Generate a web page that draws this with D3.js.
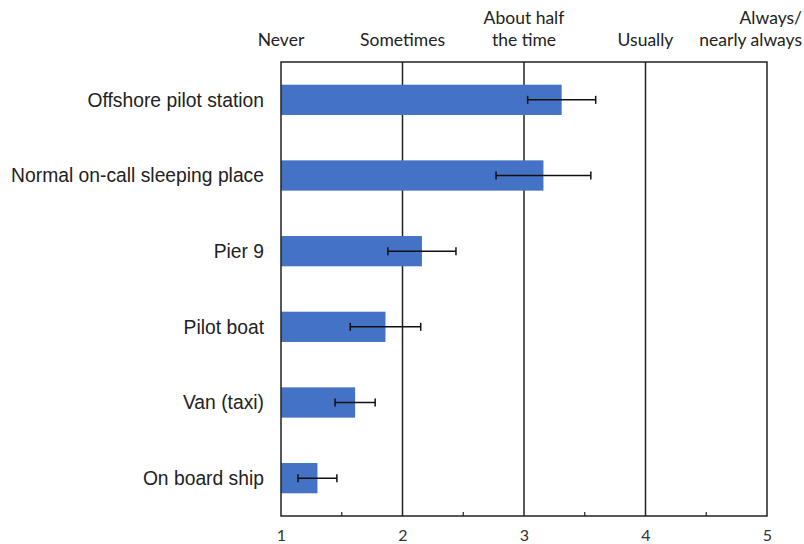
<!DOCTYPE html>
<html><head><meta charset="utf-8">
<script src="https://cdn.jsdelivr.net/npm/d3@7"></script>
<style>body{margin:0;background:#fff}</style>
</head><body>
<svg id="c" width="804" height="544"></svg>
<script>
const categories = ["Offshore pilot station","Normal on-call sleeping place","Pier 9","Pilot boat","Van (taxi)","On board ship"];
const means = [3.31, 3.16, 2.16, 1.86, 1.61, 1.30];
const errLow = [3.03, 2.77, 1.88, 1.57, 1.445, 1.14];
const errHigh = [3.59, 3.55, 2.44, 2.15, 1.775, 1.46];
const tickValues = [1,2,3,4,5];
const scaleLabels = [["Never"],["Sometimes"],["About half","the time"],["Usually"],["Always/","nearly always"]];

const svg = d3.select("#c");
const L=281, R=767, T=62, B=516;
const x = d3.scaleLinear().domain([1,5]).range([L,R]);
const y = d3.scaleBand().domain(categories).range([T,B]).paddingInner(0.6).paddingOuter(0.3);
const lineCol = "#222";

// gridlines
svg.append("g").selectAll("line").data([2,3,4]).join("line")
  .attr("x1",d=>x(d)).attr("x2",d=>x(d)).attr("y1",T).attr("y2",B)
  .attr("stroke",lineCol).attr("stroke-width",1.5);

// bars
svg.append("g").selectAll("rect").data(categories).join("rect")
  .attr("x",x(1)).attr("y",d=>y(d))
  .attr("width",(d,i)=>x(means[i])-x(1)).attr("height",y.bandwidth())
  .attr("fill","#4472C4");

// error bars
const eg = svg.append("g").attr("stroke","#111").attr("stroke-width",1.5);
categories.forEach((c,i)=>{
  const cy = y(c)+y.bandwidth()/2;
  eg.append("line").attr("x1",x(errLow[i])).attr("x2",x(errHigh[i])).attr("y1",cy).attr("y2",cy);
  [errLow[i],errHigh[i]].forEach(v=>{
    eg.append("line").attr("x1",x(v)).attr("x2",x(v)).attr("y1",cy-4).attr("y2",cy+4);
  });
});

// frame
svg.append("rect").attr("x",L).attr("y",T).attr("width",R-L).attr("height",B-T)
  .attr("fill","none").attr("stroke",lineCol).attr("stroke-width",1.5);

// bottom axis
const ax = svg.append("g").attr("transform",`translate(0,${B})`)
  .call(d3.axisBottom(x).tickValues(tickValues).tickSize(0).tickPadding(14).tickFormat(d3.format("d")));
ax.select(".domain").remove();
ax.selectAll("text").attr("font-family","Lato, 'Open Sans', sans-serif").attr("font-size",16).attr("fill","#333");
// minor ticks
svg.append("g").selectAll("line").data([1.5,2.5,3.5,4.5]).join("line")
  .attr("x1",d=>x(d)).attr("x2",d=>x(d)).attr("y1",B).attr("y2",B-4)
  .attr("stroke",lineCol).attr("stroke-width",1.2);

// category labels
svg.append("g").selectAll("text").data(categories).join("text")
  .attr("x",264).attr("y",d=>y(d)+y.bandwidth()/2).attr("dy","0.35em")
  .attr("text-anchor","end").attr("font-family","'Liberation Sans', Arial, sans-serif")
  .attr("font-size",19.3).attr("fill","#222").text(d=>d);

// top scale labels
const tl = svg.append("g").attr("font-family","Lato, 'Open Sans', sans-serif").attr("font-size",17.5).attr("fill","#222");
scaleLabels.forEach((lines,i)=>{
  const last = i===scaleLabels.length-1;
  const t = tl.append("text").attr("x", last ? 802 : x(tickValues[i]))
    .attr("text-anchor", last ? "end" : "middle");
  lines.forEach((s,j)=>{
    t.append("tspan").attr("x", last ? 802 : x(tickValues[i]))
      .attr("y", 46 - (lines.length-1-j)*22).text(s);
  });
});
</script>
</body></html>
